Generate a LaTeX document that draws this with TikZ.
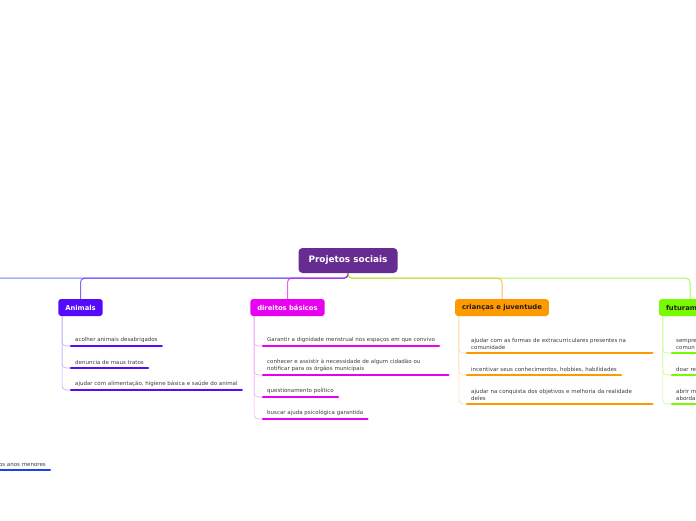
\documentclass[tikz,border=0pt]{standalone}
\usepackage{fontspec}
\setmainfont{DejaVu Sans}
\usepackage{tikz}
\usetikzlibrary{calc}
\definecolor{rootpurple}{RGB}{ 102, 44, 145 }
\definecolor{animalblue}{RGB}{ 85, 10, 250 }
\definecolor{rightsmagenta}{RGB}{ 232, 0, 240 }
\definecolor{kidsorange}{RGB}{ 255, 153, 0 }
\definecolor{futurelime}{RGB}{ 120, 250, 0 }
\definecolor{leftblue}{RGB}{ 20, 70, 235 }
\definecolor{leaftext}{RGB}{ 60, 60, 60 }
\definecolor{darktext}{RGB}{ 30, 30, 30 }

\begin{document}
\begin{tikzpicture}[x=1pt,y=-1pt]
\tikzstyle{root node}=[rectangle,rounded corners=4pt,fill=rootpurple,text=white,font=\fontsize{8.9}{10}\selectfont\bfseries,minimum width=99pt,minimum height=25pt,inner sep=0pt]
\tikzstyle{topic node}=[rectangle,rounded corners=3pt,font=\fontsize{6.8}{8}\selectfont\bfseries,minimum height=17pt,inner xsep=7pt,inner ysep=0pt]
\tikzstyle{leaf node}=[anchor=south west,inner xsep=4pt,inner ysep=3pt,text=leaftext,font=\fontsize{5.5}{7}\selectfont,align=left]
\tikzstyle{wrapped}=[text width=177pt]
\tikzstyle{topic line}=[line width=1pt,rounded corners=4pt,opacity=.65]
\tikzstyle{leaf line}=[line width=.6pt,rounded corners=4pt]
\tikzstyle{underline}=[line width=2.5pt,line cap=round]

\useasboundingbox (0,0) rectangle (696,520);

% central topic
\node(0)[root node] at (348,260.5) {Projetos sociais};

% main topics
\node(1)[topic node,fill=animalblue,text=white] at (80.5,307.5) {Animals};
\node(2)[topic node,fill=rightsmagenta,text=white] at (287.5,307.5) {direitos básicos};
\node(3)[topic node,fill=kidsorange,text=darktext] at (502,307.5) {crianças e juventude};
\node(4)[topic node,fill=futurelime,text=darktext,text width=48pt,align=left] at (690,307.5) {futuram};

% lines from the central topic
\coordinate (hub) at ($(0.south)+(0,5)$);
\coordinate (off) at (-10,278);
\draw[topic line,leftblue] (0.south) -- (hub) -- (off);
\draw[topic line,animalblue] (0.south) -- (hub) -| (1.north);
\draw[topic line,rightsmagenta] (0.south) -- (hub) -| (2.north);
\draw[topic line,kidsorange] (0.south) -- (hub) -| (3.north);
\draw[topic line,futurelime] (0.south) -- (hub) -| (4.north);

% Animals
\node(11)[leaf node] at (71,346) {acolher animais desabrigados};
\node(12)[leaf node] at (71,368) {denuncia de maus tratos};
\node(13)[leaf node] at (71,390) {ajudar com alimentação, higiene básica e saúde do animal};
\draw[leaf line,animalblue!35] ($(1.south west)+(4,0)$) |- (11.south west);
\draw[leaf line,animalblue!35] ($(1.south west)+(4,0)$) |- (12.south west);
\draw[leaf line,animalblue!35] ($(1.south west)+(4,0)$) |- (13.south west);
\draw[underline,animalblue] (11.south west) -- (11.south east);
\draw[underline,animalblue] (12.south west) -- (12.south east);
\draw[underline,animalblue] (13.south west) -- (13.south east);

% direitos basicos
\node(21)[leaf node] at (263,346) {Garantir a dignidade menstrual nos espaços em que convivo};
\node(22)[leaf node,wrapped] at (263,375) {conhecer e assistir à necessidade de algum cidadão ou\\notificar para os órgãos municipais};
\node(23)[leaf node] at (263,397) {questionamento político};
\node(24)[leaf node] at (263,419) {buscar ajuda psicológica garantida};
\draw[leaf line,rightsmagenta!35] ($(2.south west)+(4,0)$) |- (21.south west);
\draw[leaf line,rightsmagenta!35] ($(2.south west)+(4,0)$) |- (22.south west);
\draw[leaf line,rightsmagenta!35] ($(2.south west)+(4,0)$) |- (23.south west);
\draw[leaf line,rightsmagenta!35] ($(2.south west)+(4,0)$) |- (24.south west);
\draw[underline,rightsmagenta] (21.south west) -- (21.south east);
\draw[underline,rightsmagenta] (22.south west) -- (22.south east);
\draw[underline,rightsmagenta] (23.south west) -- (23.south east);
\draw[underline,rightsmagenta] (24.south west) -- (24.south east);

% criancas e juventude
\node(31)[leaf node,wrapped] at (467,353) {ajudar com as formas de extracurriculares presentes na\\comunidade};
\node(32)[leaf node] at (467,375) {incentivar seus conhecimentos, hobbies, habilidades};
\node(33)[leaf node,wrapped] at (467,404) {ajudar na conquista dos objetivos e melhoria da realidade\\deles};
\draw[leaf line,kidsorange!35] ($(3.south west)+(4,0)$) |- (31.south west);
\draw[leaf line,kidsorange!35] ($(3.south west)+(4,0)$) |- (32.south west);
\draw[leaf line,kidsorange!35] ($(3.south west)+(4,0)$) |- (33.south west);
\draw[underline,kidsorange] (31.south west) -- (31.south east);
\draw[underline,kidsorange] (32.south west) -- (32.south east);
\draw[underline,kidsorange] (33.south west) -- (33.south east);

% futuramente (cut at the edge)
\node(41)[leaf node,text width=60pt] at (672,353) {sempre\\comun};
\node(42)[leaf node,text width=60pt] at (672,375) {doar re};
\node(43)[leaf node,text width=60pt] at (672,404) {abrir m\\aborda};
\draw[leaf line,futurelime!45] ($(4.south west)+(4,0)$) |- (41.south west);
\draw[leaf line,futurelime!45] ($(4.south west)+(4,0)$) |- (42.south west);
\draw[leaf line,futurelime!45] ($(4.south west)+(4,0)$) |- (43.south west);
\draw[underline,futurelime] (41.south west) -- (41.south east);
\draw[underline,futurelime] (42.south west) -- (42.south east);
\draw[underline,futurelime] (43.south west) -- (43.south east);

% left branch, only its last line shows
\node(51)[leaf node,anchor=south east] at (50,470) {os anos menores};
\draw[underline,leftblue] (51.south west) -- (51.south east);

\end{tikzpicture}
\end{document}
